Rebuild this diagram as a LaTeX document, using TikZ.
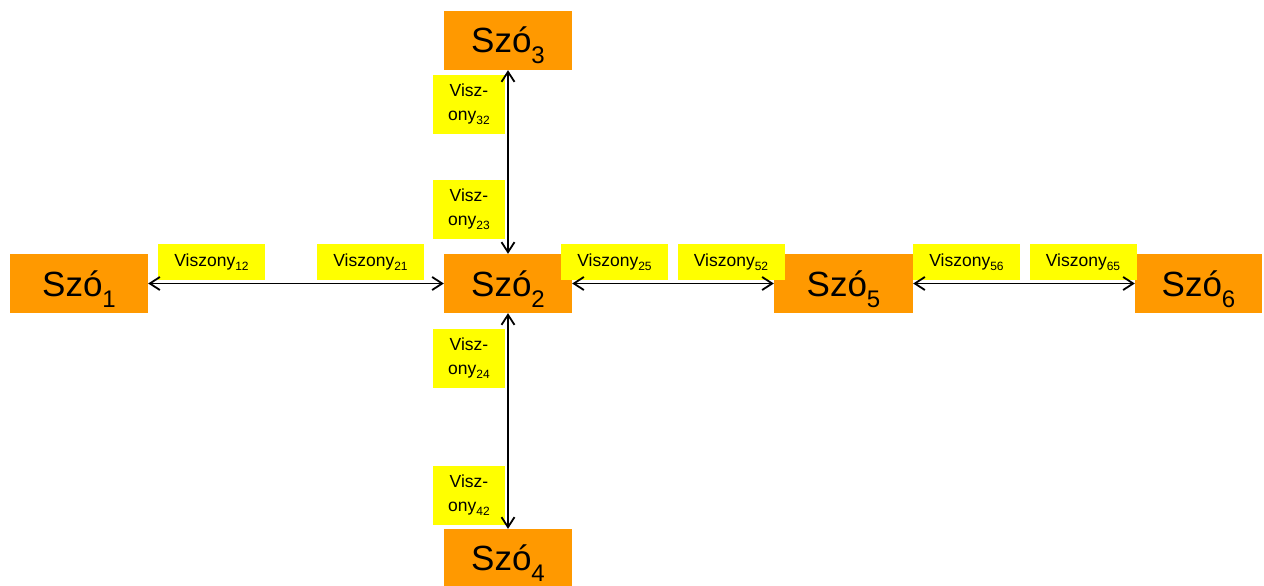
\documentclass[tikz,border=0pt]{standalone}
\usepackage{fontspec}
\setmainfont{Liberation Sans}
\usetikzlibrary{arrows.meta}
\definecolor{boxorange}{HTML}{FF9900}
\definecolor{lblyellow}{HTML}{FFFF00}
\newcommand{\szo}[1]{{\fontsize{35}{40}\selectfont Szó\raisebox{-11pt}{\fontsize{24}{28}\selectfont #1}}}
\newcommand{\vsub}[1]{\raisebox{-4pt}{\fontsize{12}{14}\selectfont #1}}
\begin{document}
\begin{tikzpicture}[x=1pt,y=-1pt,
  wordbox/.style={fill=boxorange,inner sep=0pt,anchor=center,text height=30pt,text depth=5pt},
  relbox/.style={fill=lblyellow,inner sep=0pt,anchor=center,align=center,font=\fontsize{17.5}{24}\selectfont},
  rel/.style={line width=1.8pt,{Straight Barb[length=10pt,width=13pt]}-{Straight Barb[length=10pt,width=13pt]}}]
\useasboundingbox (0,0) rectangle (1264,586);
% word boxes
\node[wordbox,minimum width=128pt,minimum height=59pt] (s3) at (508,40.5) {\szo{3}};
\node[wordbox,minimum width=138pt,minimum height=59pt] (s1) at (79,283.5) {\szo{1}};
\node[wordbox,minimum width=128pt,minimum height=59pt] (s2) at (508,283.5) {\szo{2}};
\node[wordbox,minimum width=139pt,minimum height=59pt] (s5) at (843.5,283.5) {\szo{5}};
\node[wordbox,minimum width=127pt,minimum height=59pt] (s6) at (1198.5,283.5) {\szo{6}};
\node[wordbox,minimum width=128pt,minimum height=57pt] (s4) at (508,557.5) {\szo{4}};
% relation labels
\node[relbox,minimum width=107pt,minimum height=36pt] (v12) at (211.5,262) {Viszony\vsub{12}};
\node[relbox,minimum width=107pt,minimum height=36pt] (v21) at (370.5,262) {Viszony\vsub{21}};
\node[relbox,minimum width=107pt,minimum height=36pt] (v25) at (614.5,262) {Viszony\vsub{25}};
\node[relbox,minimum width=107pt,minimum height=36pt] (v52) at (731,262) {Viszony\vsub{52}};
\node[relbox,minimum width=107pt,minimum height=36pt] (v56) at (966.5,262) {Viszony\vsub{56}};
\node[relbox,minimum width=107pt,minimum height=36pt] (v65) at (1083,262) {Viszony\vsub{65}};
\node[relbox,minimum width=72pt,minimum height=59pt] (v32) at (469,104.5) {Visz-\\ony\vsub{32}};
\node[relbox,minimum width=72pt,minimum height=59pt] (v23) at (469,209.5) {Visz-\\ony\vsub{23}};
\node[relbox,minimum width=72pt,minimum height=59pt] (v24) at (469,358.5) {Visz-\\ony\vsub{24}};
\node[relbox,minimum width=72pt,minimum height=59pt] (v42) at (469,495.5) {Visz-\\ony\vsub{42}};
% connectors
\draw[rel] (s1.east) -- (s2.west);
\draw[rel] (s2.east) -- (s5.west);
\draw[rel] (s5.east) -- (s6.west);
\draw[rel] (s3.south) -- (s2.north);
\draw[rel] (s2.south) -- (s4.north);
\end{tikzpicture}
\end{document}
